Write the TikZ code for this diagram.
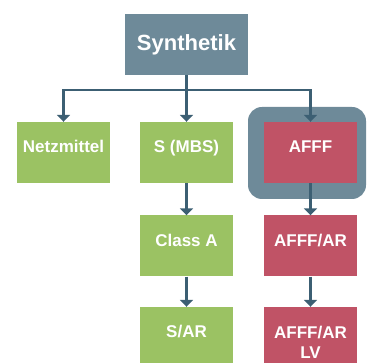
\documentclass[tikz,border=0pt]{standalone}
\usepackage{fontspec}
\setmainfont{Liberation Sans}
\usetikzlibrary{arrows.meta}
\definecolor{slate}{HTML}{6E8A99}
\definecolor{leaf}{HTML}{9BC263}
\definecolor{berry}{HTML}{C05366}
\definecolor{pipe}{HTML}{3C5F73}
\tikzset{
  box/.style={minimum width=93pt, minimum height=61pt, inner sep=0pt, align=center,
    text=white, font=\fontsize{17}{20}\selectfont\bfseries, text height=12pt, text depth=11pt},
  twolines/.style={text height=43pt, text depth=0pt},
  pipeline/.style={pipe, line width=2.6pt},
  pipearrow/.style={pipeline, -{Triangle[width=13pt,length=7pt]}}
}
\newcommand{\greenbox}[3]{%
 \node[box, fill=leaf] ({#1}) at ({#2}) {#3};%
}
\newcommand{\redbox}[3]{%
 \node[box, fill=berry] ({#1}) at ({#2}) {#3};%
}

\begin{document}
\begin{tikzpicture}[x=1pt, y=-1pt]
   \useasboundingbox (0,0) rectangle (367,363);
   \node[fill=slate, minimum width=118pt, minimum height=92pt, rounded corners=14pt] (frame) at (307,153) {};
   \node[fill=slate, minimum width=123pt, minimum height=61pt, inner sep=0pt, text=white,
     font=\fontsize{22}{26}\selectfont\bfseries] (synt) at (186.5,44.5) {Synthetik};
   \greenbox{netz}{63.5,152.5}{Netzmittel};
   \greenbox{mbs}{186.5,152.5}{S (MBS)};
   \redbox{afff}{310.5,152.5}{AFFF};
   \greenbox{classa}{186.5,246}{Class A};
   \redbox{afffar}{310.5,246}{AFFF/AR};
   \greenbox{sar}{186.5,337.5}{S/AR};
   \node[box, fill=berry, twolines] (afffarlv) at (310.5,337.5) {AFFF/AR\\LV};
   \coordinate (split) at (186.5,90);
   \draw[pipeline] (synt) -- (split);
   \draw[pipearrow] (split) -| (netz);
   \draw[pipearrow] (split) -- (mbs);
   \draw[pipearrow] (split) -| (afff);
   \draw[pipearrow] (mbs) -- (classa);
   \draw[pipearrow] (classa) -- (sar);
   \draw[pipearrow] (afff) -- (afffar);
   \draw[pipearrow] (afffar) -- (afffarlv);
  \end{tikzpicture}
\end{document}
